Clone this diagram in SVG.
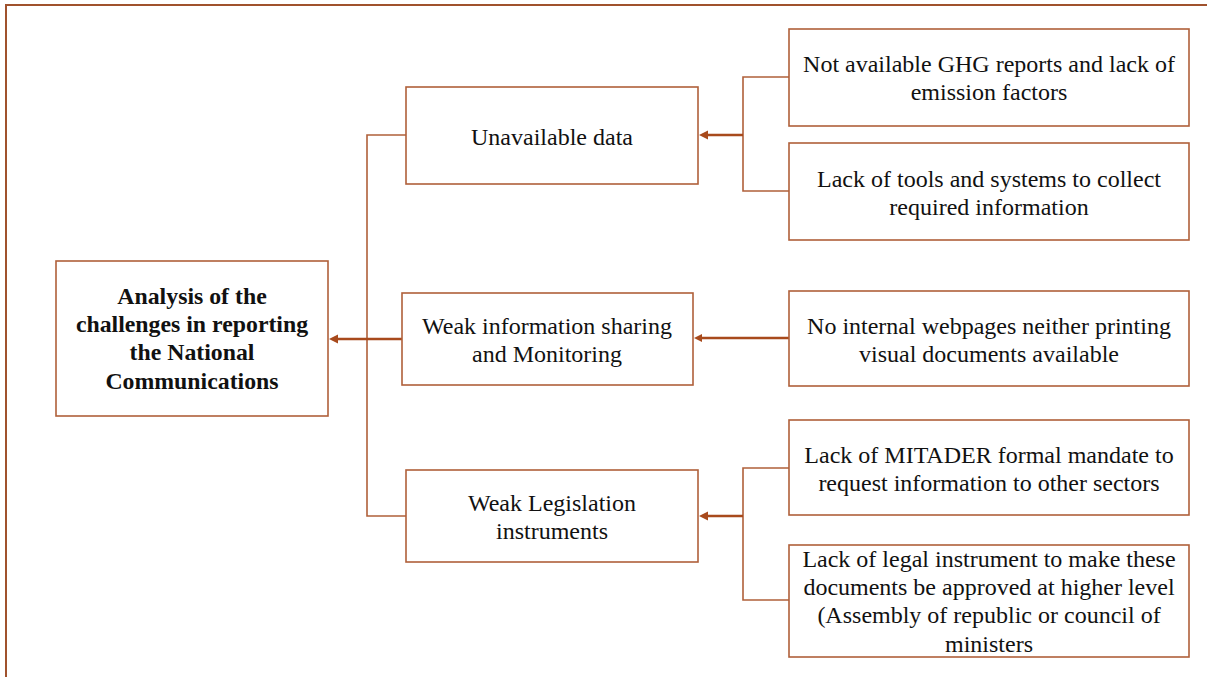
<svg xmlns="http://www.w3.org/2000/svg" width="1207" height="677" viewBox="0 0 1207 677">
  <style>
    .box { fill: #ffffff; stroke: #b0603a; stroke-width: 1.6; }
    .frame { fill: none; stroke: #a0522d; stroke-width: 2; }
    .link { fill: none; stroke: #b0603a; stroke-width: 1.6; }
    .arrow { fill: none; stroke: #a84a1c; stroke-width: 2.4; }
    .head { fill: #a84a1c; }
    text { font-family: "Liberation Serif", "Times New Roman", serif; font-size: 24px; fill: #111111; text-anchor: middle; }
    .bold { font-weight: bold; font-size: 23.8px; }
  </style>

  <rect x="0" y="0" width="1207" height="677" fill="#ffffff"/>
  <!-- outer frame -->
  <rect class="frame" x="6" y="5" width="1220" height="690"/>

  <g id="connectors">
    <!-- left bracket to root -->
    <polyline class="link" points="406,135 367,135 367,516 406,516"/>
    <line class="arrow" x1="402" y1="339" x2="336" y2="339"/>
    <polygon class="head" points="329,339 338,334.5 338,343.5"/>
    <!-- top bracket -->
    <polyline class="link" points="789,77 743,77 743,191 789,191"/>
    <line class="arrow" x1="743" y1="135" x2="705" y2="135"/>
    <polygon class="head" points="699,135 708,130.5 708,139.5"/>
    <!-- middle -->
    <line class="arrow" x1="789" y1="338" x2="700" y2="338" stroke-width="1.8"/>
    <polygon class="head" points="694,338 702,334 702,342"/>
    <!-- bottom bracket -->
    <polyline class="link" points="789,468 743,468 743,600 789,600"/>
    <line class="arrow" x1="743" y1="516" x2="705" y2="516"/>
    <polygon class="head" points="699,516 708,511.5 708,520.5"/>
  </g>

  <g id="root">
    <rect class="box" x="56" y="261" width="272" height="155"/>
    <text class="bold" x="192" y="304">Analysis of the</text>
    <text class="bold" x="192" y="332">challenges in reporting</text>
    <text class="bold" x="192" y="360">the National</text>
    <text class="bold" x="192" y="389">Communications</text>
  </g>

  <g id="unavailable-data">
    <rect class="box" x="406" y="87" width="292" height="97"/>
    <text x="552" y="145">Unavailable data</text>
  </g>

  <g id="weak-information">
    <rect class="box" x="402" y="293" width="291" height="92"/>
    <text x="547" y="334">Weak information sharing</text>
    <text x="547" y="362">and Monitoring</text>
  </g>

  <g id="weak-legislation">
    <rect class="box" x="406" y="470" width="292" height="92"/>
    <text x="552" y="511">Weak Legislation</text>
    <text x="552" y="539">instruments</text>
  </g>

  <g id="ghg-reports">
    <rect class="box" x="789" y="29" width="400" height="97"/>
    <text x="989" y="72">Not available GHG reports and lack of</text>
    <text x="989" y="100">emission factors</text>
  </g>

  <g id="tools-systems">
    <rect class="box" x="789" y="143" width="400" height="97"/>
    <text x="989" y="187">Lack of tools and systems to collect</text>
    <text x="989" y="215">required information</text>
  </g>

  <g id="webpages">
    <rect class="box" x="789" y="291" width="400" height="95"/>
    <text x="989" y="334">No internal webpages neither printing</text>
    <text x="989" y="362">visual documents available</text>
  </g>

  <g id="mandate">
    <rect class="box" x="789" y="420" width="400" height="95"/>
    <text x="989" y="463">Lack of MITADER formal mandate to</text>
    <text x="989" y="491">request information to other sectors</text>
  </g>

  <g id="legal-instrument">
    <rect class="box" x="789" y="545" width="400" height="112"/>
    <text x="989" y="567">Lack of legal instrument to make these</text>
    <text x="989" y="595">documents be approved at higher level</text>
    <text x="989" y="623">(Assembly of republic or council of</text>
    <text x="989" y="652">ministers</text>
  </g>
</svg>
